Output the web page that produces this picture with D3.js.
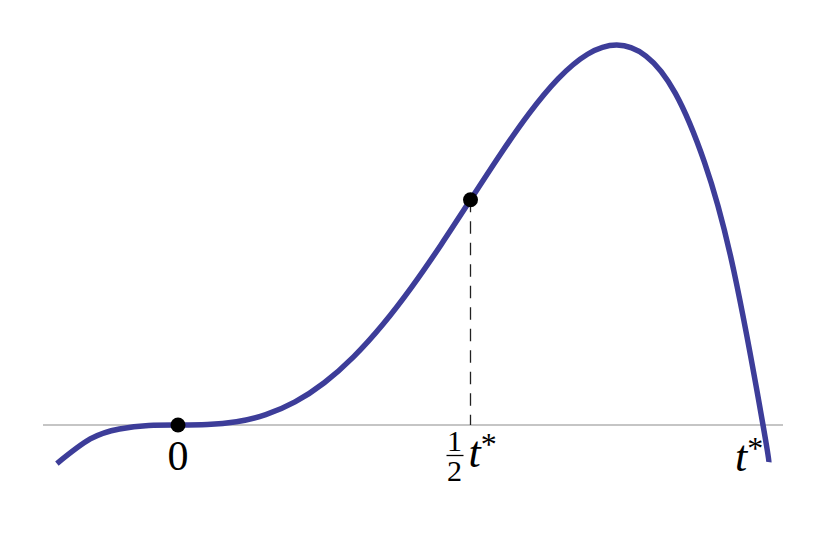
<!DOCTYPE html>
<html>
<head>
<meta charset="utf-8">
<script src="https://cdn.jsdelivr.net/npm/d3@7"></script>
<style>
  html, body { margin: 0; padding: 0; background: #fff; }
  svg { display: block; }
</style>
</head>
<body>
<svg id="chart" width="828" height="546"></svg>
<script>
// Curve samples (t in units of t*, value in plot units)
const tValues = [-0.207, -0.15, -0.1, -0.05, 0, 0.05, 0.1, 0.15, 0.2, 0.25, 0.3, 0.35, 0.4, 0.45, 0.5,
                 0.55, 0.6, 0.65, 0.7, 0.75, 0.8, 0.85, 0.9, 0.95, 1.0, 1.01];
const fValues = [-0.01071, -0.00388, -0.0011, -0.00013, 0, 0.00012, 0.0009, 0.00287, 0.0064, 0.01172,
                 0.0189, 0.02787, 0.0384, 0.05012, 0.0625, 0.07487, 0.0864, 0.09612, 0.1029, 0.10547, 0.1024,
                 0.09212, 0.0729, 0.04287, 0, -0.0103];
// Marked points
const markT = [0, 0.5];
const markF = [0, 0.0625];
// Tick labels
const tickT = [0, 0.5, 1];

const FONT = "'Liberation Serif', 'Times New Roman', serif";
const svg = d3.select("#chart");
const x = d3.scaleLinear().domain([0, 1]).range([178, 763]);
const y = d3.scaleLinear().domain([0, 0.105469]).range([425, 45]);

// axis line
svg.append("line")
  .attr("x1", 43).attr("x2", 783)
  .attr("y1", y(0)).attr("y2", y(0))
  .attr("stroke", "#8c8c8c").attr("stroke-width", 1.2);

// dashed drop line at t*/2
svg.append("line")
  .attr("x1", x(markT[1])).attr("x2", x(markT[1]))
  .attr("y1", y(markF[1])).attr("y2", y(0))
  .attr("stroke", "#222").attr("stroke-width", 1.3)
  .attr("stroke-dasharray", "12.5,9");

const pts = tValues.map((t, i) => [t, fValues[i]]);
const line = d3.line().x(d => x(d[0])).y(d => y(d[1])).curve(d3.curveNatural);
svg.append("path")
  .attr("d", line(pts))
  .attr("fill", "none")
  .attr("stroke", "#3d3d99")
  .attr("stroke-width", 5.5);

svg.selectAll("circle.mark").data(markT).enter().append("circle")
  .attr("class", "mark")
  .attr("cx", (d) => x(d)).attr("cy", (d, i) => y(markF[i]))
  .attr("r", 7.5).attr("fill", "#000");

// labels
svg.append("text").attr("x", x(tickT[0])).attr("y", 470)
  .style("font-family", FONT)
  .attr("text-anchor", "middle").attr("font-size", 42).text("0");

// 1/2 t*
const hx = x(tickT[1]);
svg.append("text").attr("x", hx - 16).attr("y", 451).style("font-family", FONT)
  .attr("text-anchor", "middle").attr("font-size", 30).text("1");
svg.append("line").attr("x1", hx - 24).attr("x2", hx - 7)
  .attr("y1", 455.5).attr("y2", 455.5).attr("stroke", "#000").attr("stroke-width", 1.3);
svg.append("text").attr("x", hx - 16).attr("y", 481).style("font-family", FONT)
  .attr("text-anchor", "middle").attr("font-size", 30).text("2");
const mt = svg.append("text").attr("x", hx - 2).attr("y", 467).attr("font-size", 44).style("font-family", FONT);
mt.append("tspan").attr("font-style", "italic").text("t");
mt.append("tspan").attr("font-size", 32).attr("dy", -12).text("*");

const rt = svg.append("text").attr("x", x(tickT[2]) - 28).attr("y", 471).attr("font-size", 44).style("font-family", FONT);
rt.append("tspan").attr("font-style", "italic").text("t");
rt.append("tspan").attr("font-size", 32).attr("dy", -12).text("*");
</script>
</body>
</html>
